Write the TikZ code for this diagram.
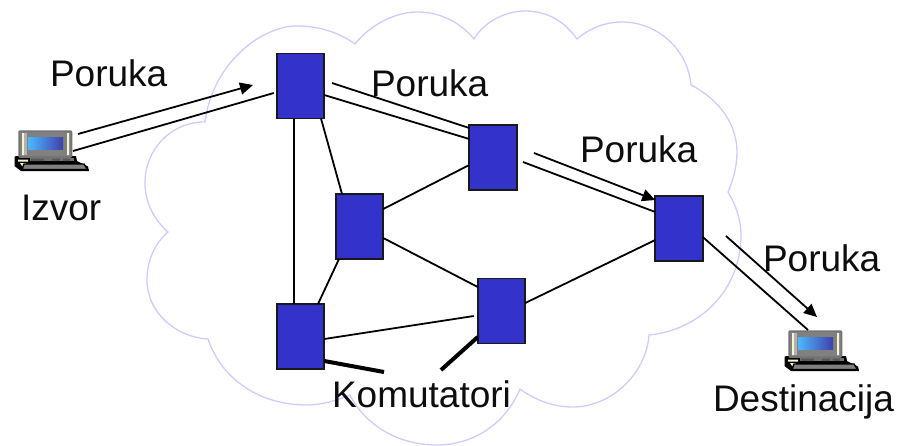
\documentclass[tikz,border=0pt]{standalone}
\usepackage{fontspec}
\setmainfont{Liberation Sans}
\usetikzlibrary{arrows.meta,calc}
\definecolor{cloudc}{HTML}{CCCCFF}
\definecolor{swblue}{HTML}{3333CC}
\tikzset{
  x=1pt,y=-1pt,
  switchbox/.style={draw=black!90,line width=1.7pt,fill=swblue,minimum width=47.5pt,minimum height=65pt,inner sep=0pt,outer sep=0pt},
  lbl/.style={anchor=base west,inner sep=0pt,outer sep=0pt,font=\fontsize{37}{40}\selectfont,text=black!95},
  link/.style={line width=1.8pt,draw=black},
  thicklink/.style={line width=4pt,draw=black},
  msg/.style={line width=1.8pt,draw=black,-{Triangle[length=13pt,width=12pt]}},
  laptop/.pic={
    \fill[black] (16,156) -- (76,156) -- (77,161) -- (88,166.5) -- (89,171) -- (21,171) -- (14.5,166) -- (14.5,157) -- cycle;
    \fill[black!55] (30,158) rectangle (74,161);
    \fill[black!15!yellow!20!white] (18,159.5) rectangle (28,161.5) (20,163) -- (26,163) -- (24,167) -- (22,166) -- cycle;
    \fill[black!65] (31,158.5) rectangle (44,161) (52,158.5) rectangle (60,161) (63,158.5) rectangle (70,161);
    \filldraw[draw=black!55,fill=black!50,line width=1.5pt,rounded corners=1pt] (19,131) rectangle (71.5,157);
    \fill[black!15!yellow!20!white] (22,133) rectangle (24,155) (67,133) rectangle (69,155);
    \fill[black!30] (24,133) rectangle (27,155);
    \shade[left color=blue!40!cyan!70!white,right color=blue!55!black!75!white] (28,137) rectangle (63,149);
    \filldraw[draw=black,fill=black!50,line width=1.4pt] (24,164) -- (84,164) -- (87.5,169.5) -- (22,169.5) -- cycle;
  }
}
\begin{document}
\begin{tikzpicture}
\useasboundingbox (0,0) rectangle (900,445);
% cloud
\draw[cloudc,line width=1.3pt,line join=miter]
 (205,122) .. controls (212,65) and (260,26) .. (297,26)
 .. controls (320,26) and (340,33) .. (355,44)
 .. controls (370,25) and (395,12) .. (417,12)
 .. controls (440,12) and (460,22) .. (474,39)
 .. controls (484,22) and (505,11) .. (525,11)
 .. controls (548,11) and (565,22) .. (577,39)
 .. controls (590,28) and (605,22) .. (622,22)
 .. controls (658,22) and (688,50) .. (691,85)
 .. controls (720,100) and (737,125) .. (737,152)
 .. controls (737,167) and (733,180) .. (728,192)
 .. controls (736,205) and (741,220) .. (741,235)
 .. controls (741,290) and (700,330) .. (649,335)
 .. controls (646,375) and (610,407) .. (573,407)
 .. controls (553,407) and (535,400) .. (520,389)
 .. controls (505,425) and (472,445) .. (437,445)
 .. controls (398,445) and (365,425) .. (350,395)
 .. controls (338,400) and (322,405) .. (307,405)
 .. controls (260,405) and (222,380) .. (208,339)
 .. controls (175,337) and (147,312) .. (147,280)
 .. controls (147,260) and (155,243) .. (168,232)
 .. controls (152,218) and (145,200) .. (145,183)
 .. controls (145,150) and (170,122) .. (205,122) -- cycle;
% laptops
\pic at (0,0) {laptop};
\pic at (770,200) {laptop};
% switches
\node[switchbox] (r1) at (300.5,86) {};
\node[switchbox] (r2) at (493,157.5) {};
\node[switchbox] (r3) at (359.5,226.5) {};
\node[switchbox] (r4) at (679,228.5) {};
\node[switchbox] (r5) at (501.5,311) {};
\node[switchbox] (r6) at (300.5,336.5) {};
% free ends
\coordinate (s1a) at (78,134);
\coordinate (s1t) at (253,85);
\coordinate (s1b) at (73,151);
\coordinate (m2a) at (332,83);
\coordinate (m3a) at (534,153);
\coordinate (m3b) at (523,162);
\coordinate (m4a) at (726,236);
\coordinate (m4t) at (817,317);
\coordinate (d1) at (808,330);
\coordinate (k1) at (384,372);
\coordinate (k2) at (441,370);
% links
\draw[link] ([xshift=-6.5pt]r1.south) -- ([xshift=-6.5pt]r6.north);
\draw[link] ([xshift=20.5pt]r1.south) -- ([xshift=-17.5pt]r3.north);
\draw[link] ([xshift=-20.5pt]r3.south) -- ([xshift=17.5pt]r6.north);
\draw[link] ([yshift=17.5pt]r3.east) -- ([yshift=-7.5pt]r2.west);
\draw[link] ([yshift=-11.5pt]r3.east) -- ([yshift=24pt]r5.west);
\draw[link] ([yshift=8pt]r5.east) -- ([yshift=-11.5pt]r4.west);
\draw[link] ([yshift=-2.5pt]r6.east) -- ([xshift=-4pt,yshift=-5pt]r5.west);
\draw[link] ([yshift=-9pt]r1.east) -- ([yshift=18.5pt]r2.west);
\draw[link] (m2a) -- ([yshift=29.5pt]r2.west);
\draw[link] (s1b) -- ([xshift=-3pt,yshift=-7pt]r1.west);
\draw[msg] (s1a) -- (s1t);
\draw[link] (m3b) -- ([yshift=16.5pt]r4.west);
\draw[msg] (m3a) -- ([yshift=28.5pt]r4.west);
\draw[link] ([yshift=-8.5pt]r4.east) -- (d1);
\draw[msg] (m4a) -- (m4t);
\draw[thicklink] ([yshift=-24.5pt]r6.east) -- (k1);
\draw[thicklink] ([yshift=-26pt]r5.west) -- (k2);
% labels
\node[lbl] (p1) at (50,86) {Poruka};
\node[lbl] (p2) at (371,96) {Poruka};
\node[lbl] (p3) at (580,162) {Poruka};
\node[lbl] (p4) at (763,271) {Poruka};
\node[lbl] (iz) at (21,220) {Izvor};
\node[lbl] (de) at (713,411) {Destinacija};
\node[lbl] (ko) at (332,407) {Komutatori};
\end{tikzpicture}
\end{document}
